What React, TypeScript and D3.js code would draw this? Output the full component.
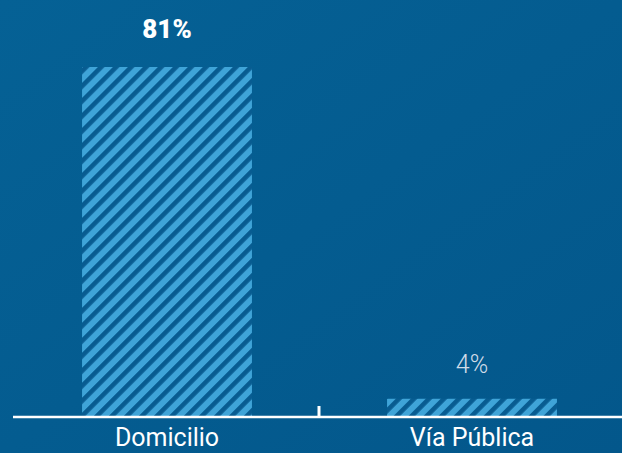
import React from 'react';
import * as d3 from 'd3';

const categories = ['Domicilio', 'Vía Pública'];
const values = [81, 4];
const valueLabels = ['81%', '4%'];

const W = 622;
const H = 453;
const baseY = 416;

const App = () => {
  const x = d3.scaleBand<string>().domain(categories).range([14.5, 624.5]).paddingInner(0.443).paddingOuter(0.2215);
  const y = d3.scaleLinear().domain([0, 81]).range([baseY, 67]);
  const font = 'Roboto, "DejaVu Sans", sans-serif';

  return (
    <svg width={W} height={H} style={{ position: 'absolute', left: 0, top: 0, display: 'block' }}>
      <defs>
        <linearGradient id="bg" x1="0" y1="0" x2="1" y2="1">
          <stop offset="0%" stopColor="#056195" />
          <stop offset="100%" stopColor="#03578b" />
        </linearGradient>
        <pattern id="hatch" patternUnits="userSpaceOnUse" width="10.6" height="10.6" patternTransform="rotate(45)">
          <rect width="10.6" height="10.6" fill="#3fa4d8" />
          <rect x="0" width="4.6" height="10.6" fill="#085c91" />
        </pattern>
      </defs>
      <rect width={W} height={H} fill="url(#bg)" />
      {categories.map((c, i) => (
        <g key={c}>
          <rect x={x(c)} y={y(values[i])} width={x.bandwidth()} height={baseY - y(values[i])} fill="url(#hatch)" />
          <text
            x={(x(c) ?? 0) + x.bandwidth() / 2}
            y={i === 0 ? y(values[i]) - 29 : y(values[i]) - 26}
            textAnchor="middle"
            fontFamily={font}
            fontSize={i === 0 ? 26 : 25}
            fontWeight={i === 0 ? 900 : 300}
            fill={i === 0 ? '#ffffff' : '#d0dce8'}
          >
            {valueLabels[i]}
          </text>
          <text
            x={(x(c) ?? 0) + x.bandwidth() / 2}
            y={446}
            textAnchor="middle"
            fontFamily={font}
            fontSize={25}
            fill="#ffffff"
          >
            {c}
          </text>
        </g>
      ))}
      <line x1={13} x2={W} y1={417} y2={417} stroke="#ffffff" strokeWidth={2.5} />
      <line x1={319} x2={319} y1={406} y2={417} stroke="#ffffff" strokeWidth={3} />
    </svg>
  );
};

export default App;
